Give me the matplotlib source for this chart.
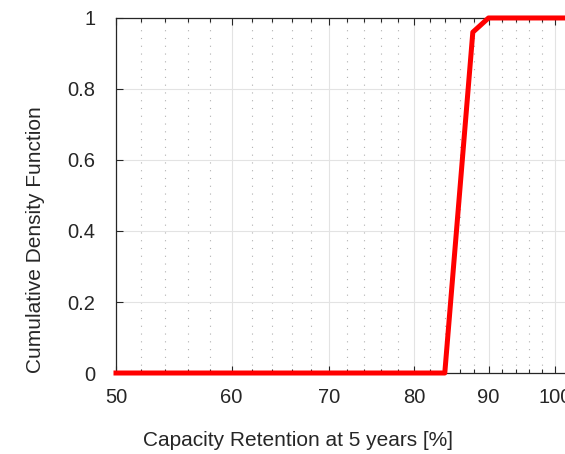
import matplotlib.pyplot as plt
from matplotlib.ticker import FixedLocator, NullFormatter

plt.rcParams['font.family'] = ['Liberation Sans', 'DejaVu Sans']

# CDF of capacity retention
retention = [50, 84.0, 87.8, 90.0, 110]
cdf = [0, 0, 0.96, 1.0, 1.0]

x_major = [50, 60, 70, 80, 90, 100]
x_labels = ['50', '60', '70', '80', '90', '100']
x_minor = [52, 54, 56, 58, 62, 64, 66, 68, 72, 74, 76, 78,
           82, 84, 86, 88, 92, 94, 96, 98, 102, 104, 106, 108]
y_major = [0, 0.2, 0.4, 0.6, 0.8, 1]
y_labels = ['0', '0.2', '0.4', '0.6', '0.8', '1']

fig = plt.figure(figsize=(5.65, 4.54), dpi=100)
ax = fig.add_axes([0.2053, 0.1784, 0.8844, 0.782])

ax.plot(retention, cdf, color='#ff0000', linewidth=3.6, clip_on=False, zorder=5)

ax.set_xscale('log')
ax.set_xlim(50, 110)
ax.set_ylim(0, 1)

ax.xaxis.set_major_locator(FixedLocator(x_major))
ax.set_xticklabels(x_labels)
ax.xaxis.set_minor_locator(FixedLocator(x_minor))
ax.xaxis.set_minor_formatter(NullFormatter())
ax.set_yticks(y_major)
ax.set_yticklabels(y_labels)

ax.grid(True, which='major', color='#e3e3e3', linewidth=0.8, linestyle='-')
ax.grid(True, which='minor', axis='x', color='#b0b0b0', linewidth=0.8,
        linestyle=(0, (1, 6)))
ax.set_axisbelow(True)

ax.tick_params(which='both', direction='in', top=True, right=False,
               colors='#262626', labelcolor='#262626', labelsize=14.5)
ax.tick_params(axis='x', which='major', pad=11)
ax.tick_params(axis='y', which='major', pad=15)
ax.tick_params(which='major', length=5, width=0.8)
ax.tick_params(which='minor', length=3, width=0.8)
for side in ['top', 'left', 'bottom']:
    ax.spines[side].set_color('#262626')
    ax.spines[side].set_linewidth(0.9)
ax.spines['right'].set_visible(False)

ax.set_xlabel('Capacity Retention at 5 years [%]', fontsize=15, color='#262626')
ax.set_ylabel('Cumulative Density Function', fontsize=15, color='#262626')
ax.xaxis.set_label_coords(0.364, -0.162)
ax.yaxis.set_label_coords(-0.143, 0.375)

fig.savefig('out.png', dpi=100)
